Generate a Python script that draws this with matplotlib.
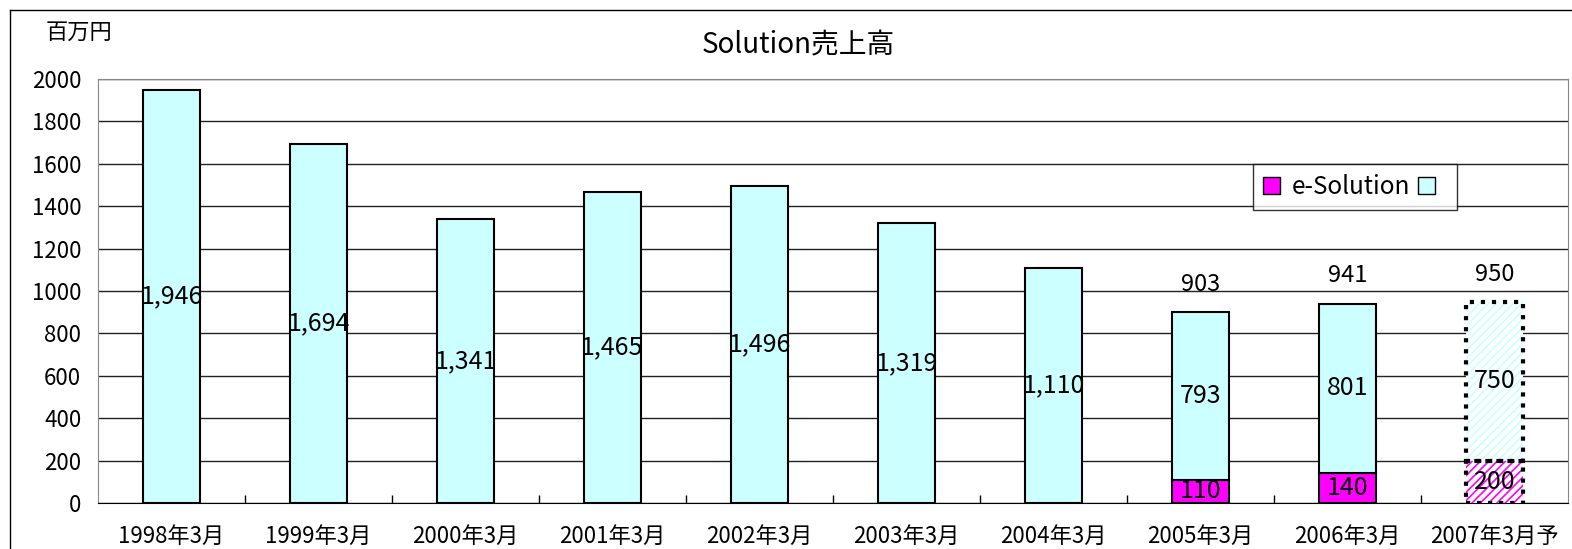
import matplotlib.pyplot as plt
from matplotlib.patches import Patch
from matplotlib.lines import Line2D

plt.rcParams['font.family'] = ['Noto Sans CJK JP', 'DejaVu Sans']
plt.rcParams['hatch.linewidth'] = 1.2

# --- data ---
categories = ['1998年3月', '1999年3月', '2000年3月', '2001年3月', '2002年3月',
              '2003年3月', '2004年3月', '2005年3月', '2006年3月', '2007年3月予']
e_solution = [0, 0, 0, 0, 0, 0, 0, 110, 140, 200]
other = [1946, 1694, 1341, 1465, 1496, 1319, 1110, 793, 801, 750]
forecast = [False] * 9 + [True]
yticks = [0, 200, 400, 600, 800, 1000, 1200, 1400, 1600, 1800, 2000]

cyan = '#CCFFFF'
magenta = '#FF00FF'
w = 0.39

fig = plt.figure(figsize=(15.72, 5.49), dpi=100)
ax = fig.add_axes([98/1572, 1 - 503/549, 1470/1572, 424/549])

x = list(range(len(categories)))
for i in x:
    e, o = e_solution[i], other[i]
    if forecast[i]:
        ax.bar(i, e, w, color='white', edgecolor=magenta, hatch='////', linewidth=0, zorder=3)
        ax.bar(i, o, w, bottom=e, color='white', edgecolor=cyan, hatch='////', linewidth=0, zorder=3)
        ax.bar(i, e, w, fill=False, edgecolor='black', linestyle=':', linewidth=3, zorder=4)
        ax.bar(i, o, w, bottom=e, fill=False, edgecolor='black', linestyle=':', linewidth=3, zorder=4)
    else:
        if e > 0:
            ax.bar(i, e, w, color=magenta, edgecolor='black', linewidth=1.5, zorder=3)
        ax.bar(i, o, w, bottom=e, color=cyan, edgecolor='black', linewidth=1.5, zorder=3)

    # labels
    if e > 0:
        ax.text(i, e / 2, str(e), ha='center', va='center', fontsize=18, zorder=5)
        ax.text(i, e + o / 2, f'{o:,}', ha='center', va='center', fontsize=18, zorder=5)
        ax.text(i, e + o + 130, f'{e + o:,}', ha='center', va='center', fontsize=17, zorder=5)
    else:
        ax.text(i, o / 2, f'{o:,}', ha='center', va='center', fontsize=18, zorder=5)

ax.set_xlim(-0.5, len(categories) - 0.5)
ax.set_ylim(0, 2000)
ax.set_yticks(yticks)
ax.tick_params(axis='y', labelsize=16, length=0, pad=12)
ax.set_xticks(x)
ax.set_xticklabels(categories, fontsize=16)
ax.set_xticks([i + 0.5 for i in x[:-1]], minor=True)
ax.tick_params(axis='x', which='major', length=0, pad=16)
ax.tick_params(axis='x', which='minor', direction='in', length=6, width=1)
ax.grid(axis='y', color='#222222', linewidth=1, zorder=0)
for s in ['top', 'right']:
    ax.spines[s].set_color('#888888')
ax.spines['left'].set_color('#888888')
ax.spines['bottom'].set_color('black')

fig.text(798/1572, 1 - 45/549, 'Solution売上高', ha='center', va='center', fontsize=20)
fig.text(46/1572, 1 - 32/549, '百万円', ha='left', va='center', fontsize=16)

# outer chart border
fig.add_artist(Line2D([10/1572, 10/1572], [0, 1 - 10/549], color='black', linewidth=1))
fig.add_artist(Line2D([10/1572, 1], [1 - 10/549, 1 - 10/549], color='black', linewidth=1))

handles = [Patch(facecolor=magenta, edgecolor='black'), Patch(facecolor=cyan, edgecolor='black')]
leg = fig.legend(handles, ['e-Solution', ''], loc='center', bbox_to_anchor=(1355/1572, 1 - 187/549),
                 ncol=2, fontsize=17.5, frameon=True, fancybox=False, edgecolor='black',
                 handlelength=0.7, handleheight=0.7, handletextpad=0.5, columnspacing=0.3,
                 borderpad=0.4)
leg.get_frame().set_linewidth(1)

fig.savefig('out.png', dpi=100)
